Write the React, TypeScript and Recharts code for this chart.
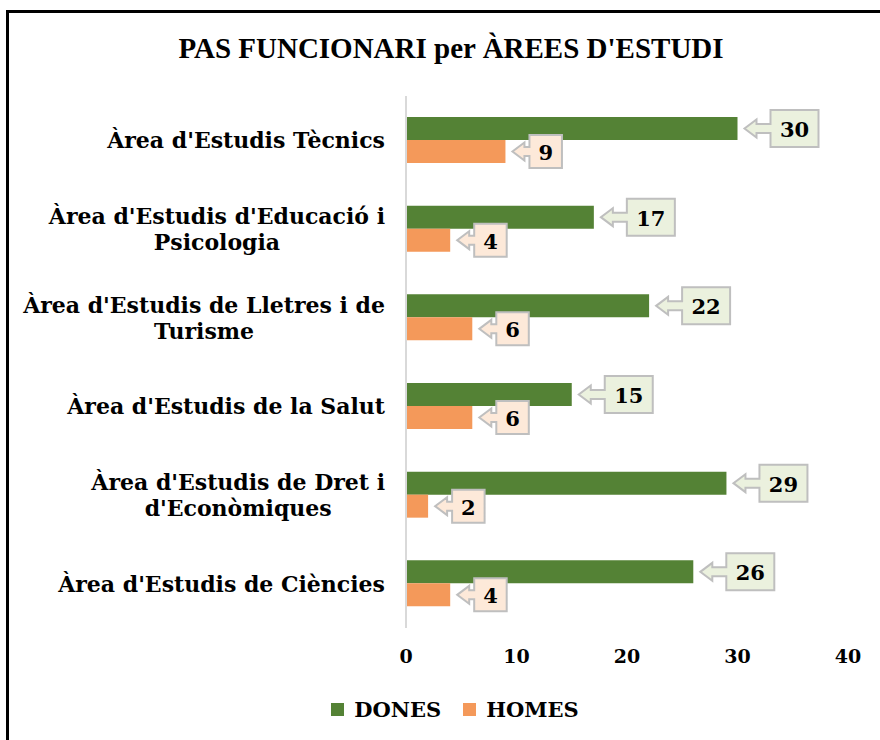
import { BarChart, Bar, XAxis, YAxis, LabelList, Legend } from 'recharts';

const areas = [
  "Àrea d'Estudis Tècnics",
  "Àrea d'Estudis d'Educació i\nPsicologia",
  "Àrea d'Estudis de Lletres i de\nTurisme",
  "Àrea d'Estudis de la Salut",
  "Àrea d'Estudis de Dret i\nd'Econòmiques",
  "Àrea d'Estudis de Ciències",
];
const dones = [30, 17, 22, 15, 29, 26];
const homes = [9, 4, 6, 6, 2, 4];
const xTicks = [0, 10, 20, 30, 40];

const SERIF = "'DejaVu Serif', Georgia, serif";
const COLORS = {
  dones: '#548235',
  homes: '#F4995A',
  donesBox: '#EBF1DE',
  homesBox: '#FDE9D9',
  boxBorder: '#BFBFBF',
  axis: '#D9D9D9',
};

const data = areas.map((area, i) => ({ area, dones: dones[i], homes: homes[i] }));

let measureCtx: CanvasRenderingContext2D | null = null;
function textWidth(text: string, font: string) {
  if (!measureCtx) measureCtx = document.createElement('canvas').getContext('2d');
  if (!measureCtx) return text.length * 10;
  measureCtx.font = font;
  return measureCtx.measureText(text).width;
}

const TICK_FONT_SIZE = 22;

function AreaTick(props: any) {
  const { x, y, payload } = props;
  const lines: string[] = String(payload.value).split('\n');
  const font = `bold ${TICK_FONT_SIZE}px ${SERIF}`;
  const maxW = Math.max(...lines.map((l) => textWidth(l, font)));
  const cx = x - maxW / 2;
  const lineH = 26;
  const startY = y - ((lines.length - 1) * lineH) / 2;
  return (
    <g>
      {lines.map((line, i) => (
        <text
          key={i}
          x={cx}
          y={startY + i * lineH}
          textAnchor="middle"
          dominantBaseline="central"
          fontFamily={SERIF}
          fontWeight="bold"
          fontSize={TICK_FONT_SIZE}
          fill="#000"
        >
          {line}
        </text>
      ))}
    </g>
  );
}

function ValueTick(props: any) {
  const { x, y, payload } = props;
  return (
    <text x={x} y={y + 10} textAnchor="middle" fontFamily={SERIF} fontWeight="bold" fontSize={19} fill="#000">
      {payload.value}
    </text>
  );
}

// callout box with an arrow pointing back at the bar end
function makeCallout(fill: string, arrowLen: number, bh: number) {
  return function Callout(props: any) {
    const { x, y, width, height, value } = props;
    const cy = y + height / 2;
    const tip = x + width + 7;
    const headLen = 12;
    const bx = tip + arrowLen;
    const bw = 17 + 15.5 * String(value).length;
    const by = cy - bh / 2;
    const path = [
      `M${bx},${by}`,
      `L${bx + bw},${by}`,
      `L${bx + bw},${by + bh}`,
      `L${bx},${by + bh}`,
      `L${bx},${cy + 4.5}`,
      `L${tip + headLen},${cy + 4.5}`,
      `L${tip + headLen},${cy + 9}`,
      `L${tip},${cy}`,
      `L${tip + headLen},${cy - 9}`,
      `L${tip + headLen},${cy - 4.5}`,
      `L${bx},${cy - 4.5}`,
      'Z',
    ].join(' ');
    return (
      <g>
        <path d={path} fill={fill} stroke={COLORS.boxBorder} strokeWidth={2} />
        <text
          x={bx + bw / 2}
          y={cy + 1}
          textAnchor="middle"
          dominantBaseline="central"
          fontFamily={SERIF}
          fontWeight="bold"
          fontSize={21}
          fill="#000"
        >
          {value}
        </text>
      </g>
    );
  };
}

function LegendContent(props: any) {
  const { payload } = props;
  return (
    <div style={{ display: 'flex', justifyContent: 'center', gap: 22, paddingLeft: 30 }}>
      {(payload || []).map((p: any) => (
        <div key={p.value} style={{ display: 'flex', alignItems: 'center', gap: 10 }}>
          <span style={{ width: 13, height: 13, background: p.color, display: 'inline-block' }} />
          <span style={{ fontFamily: SERIF, fontWeight: 'bold', fontSize: 21, color: '#000' }}>{p.value}</span>
        </div>
      ))}
    </div>
  );
}

export default function App() {
  return (
    <div style={{ position: 'fixed', left: 0, top: 0, width: 880, height: 740, overflow: 'hidden', background: '#fff' }}>
      <div
        style={{
          position: 'absolute',
          left: 6,
          top: 10,
          width: 900,
          height: 800,
          border: '3px solid #000',
          boxSizing: 'border-box',
        }}
      />
      <div
        style={{
          position: 'absolute',
          left: 0,
          top: 29,
          width: 902,
          textAlign: 'center',
          fontFamily: "'Liberation Serif', 'Times New Roman', serif",
          fontWeight: 'bold',
          fontSize: 29,
          color: '#000',
          lineHeight: '38px',
        }}
      >
        PAS FUNCIONARI per ÀREES D'ESTUDI
      </div>
      <div style={{ position: 'absolute', left: 0, top: 0 }}>
        <BarChart
          width={880}
          height={740}
          data={data}
          layout="vertical"
          margin={{ top: 96, right: 32, bottom: 52, left: 20 }}
          barSize={23}
          barGap={0}
        >
          <XAxis
            type="number"
            domain={[0, 40]}
            ticks={xTicks}
            axisLine={false}
            tickLine={false}
            tickSize={0}
            tickMargin={25}
            height={60}
            tick={<ValueTick />}
          />
          <YAxis
            type="category"
            dataKey="area"
            width={386}
            axisLine={{ stroke: COLORS.axis, strokeWidth: 2 }}
            tickLine={false}
            tickSize={0}
            tickMargin={21}
            tick={<AreaTick />}
            interval={0}
          />
          <Legend
            verticalAlign="middle"
            align="center"
            content={<LegendContent />}
            wrapperStyle={{ top: 697, left: 0, width: 880 }}
          />
          <Bar dataKey="dones" name="DONES" fill={COLORS.dones} isAnimationActive={false}>
            <LabelList dataKey="dones" content={makeCallout(COLORS.donesBox, 26, 37)} />
          </Bar>
          <Bar dataKey="homes" name="HOMES" fill={COLORS.homes} isAnimationActive={false}>
            <LabelList dataKey="homes" content={makeCallout(COLORS.homesBox, 17, 33)} />
          </Bar>
        </BarChart>
      </div>
    </div>
  );
}
